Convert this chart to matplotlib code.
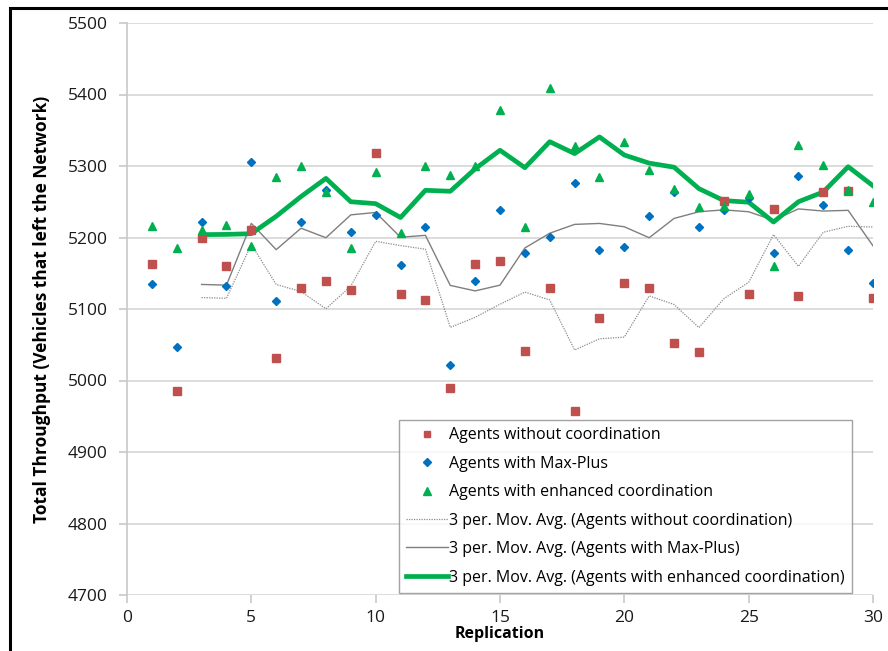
import numpy as np
import pandas as pd
import matplotlib.pyplot as plt
from matplotlib.lines import Line2D
from matplotlib.patches import Rectangle

plt.rcParams['font.family'] = ['Open Sans', 'DejaVu Sans']

replication = np.arange(1, 31)

# total throughput per replication
no_coord = [5163, 4985, 5200, 5160, 5211, 5032, 5130, 5139, 5127, 5318,
            5121, 5112, 4990, 5163, 5167, 5041, 5130, 4957, 5088, 5137,
            5130, 5052, 5040, 5251, 5121, 5240, 5118, 5264, 5265, 5115]
max_plus = [5135, 5047, 5221, 5132, 5306, 5111, 5222, 5266, 5207, 5232,
            5162, 5215, 5022, 5139, 5239, 5178, 5201, 5276, 5182, 5187,
            5230, 5263, 5215, 5238, 5255, 5179, 5286, 5246, 5182, 5137]
enhanced = [5216, 5185, 5211, 5217, 5188, 5284, 5300, 5264, 5186, 5292,
            5206, 5300, 5288, 5300, 5378, 5215, 5409, 5328, 5285, 5333,
            5294, 5268, 5243, 5244, 5261, 5160, 5329, 5302, 5266, 5249]

labels = ['Agents without coordination', 'Agents with Max-Plus',
          'Agents with enhanced coordination']

# 3 period moving averages
ma_no = pd.Series(no_coord).rolling(3).mean()
ma_mp = pd.Series(max_plus).rolling(3).mean()
ma_en = pd.Series(enhanced).rolling(3).mean()

red, blue, green = '#C0504D', '#0070C0', '#00B050'

fig = plt.figure(figsize=(8.88, 6.51), dpi=100)
ax = fig.add_axes([127/888, 1 - 595/651, 746/888, 572/651])

ax.plot(replication, ma_no, color='#8c8c8c', lw=0.9, ls=(0, (1, 1)), zorder=3)
ax.plot(replication, ma_mp, color='#7f7f7f', lw=1.0, zorder=3)
ax.plot(replication, ma_en, color=green, lw=3.4, zorder=3)

ax.plot(replication, no_coord, 's', color=red, ms=5.3, zorder=4)
ax.plot(replication, max_plus, 'D', color=blue, ms=4.2, zorder=4)
ax.plot(replication, enhanced, '^', color=green, ms=5.6, zorder=4)

ax.set_xlim(0, 30)
ax.set_ylim(4700, 5500)
ax.set_xticks(range(0, 31, 5))
ax.set_yticks(range(4700, 5501, 100))
ax.grid(axis='y', color='#d9d9d9', lw=1.3)
ax.set_axisbelow(True)
for s in ['top', 'right', 'bottom']:
    ax.spines[s].set_visible(False)
ax.spines['left'].set_color('#c8c8c8')
ax.spines['left'].set_linewidth(1.2)
ax.tick_params(axis='both', colors='#c8c8c8', width=1.2, length=6,
               labelcolor='#1a1a1a', labelsize=12.5)
ax.tick_params(axis='y', pad=8)
ax.tick_params(axis='x', pad=5)

ax.set_xlabel('Replication', fontsize=11.5, fontweight='bold', labelpad=0)
ax.set_ylabel('Total Throughput (Vehicles that left the Network)',
              fontsize=12.5, fontweight='bold', labelpad=12)

handles = [
    Line2D([], [], ls='none', marker='s', color=red, ms=5),
    Line2D([], [], ls='none', marker='D', color=blue, ms=3.8),
    Line2D([], [], ls='none', marker='^', color=green, ms=5.5),
    Line2D([], [], color='#8c8c8c', lw=0.9, ls=(0, (1, 1))),
    Line2D([], [], color='#7f7f7f', lw=1.0),
    Line2D([], [], color=green, lw=3.4),
]
leg_labels = labels + ['3 per. Mov. Avg. (%s)' % l for l in labels]
leg = ax.legend(handles, leg_labels, loc='lower right',
                bbox_to_anchor=(0.972, 0.004), borderaxespad=0,
                fontsize=11.5, frameon=True, fancybox=False,
                edgecolor='#8c8c8c', handlelength=2.6, handletextpad=0.1,
                labelspacing=0.78, borderpad=0.45)
leg.get_frame().set_linewidth(1.0)

# chart border
fig.patches.append(Rectangle((10/888, -0.1), 1.2, 1.1 - 8/651,
                             transform=fig.transFigure, fill=False,
                             ec='black', lw=2.2))

fig.savefig('out.png', dpi=100)
